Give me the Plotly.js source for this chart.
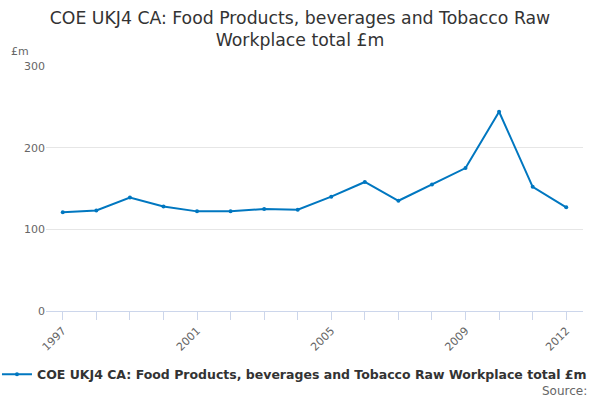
<!DOCTYPE html>
<html>
<head>
<meta charset="utf-8">
<script src="https://cdn.plot.ly/plotly-3.0.1.min.js"></script>
<style>html,body{margin:0;padding:0;background:#fff;}#chart{width:600px;height:400px;}</style>
</head>
<body>
<div id="chart"></div>
<script>
const years = [1997,1998,1999,2000,2001,2002,2003,2004,2005,2006,2007,2008,2009,2010,2011,2012];
const values = [121,123,139,128,122,122,125,124,140,158,135,155,175,244,152,127];
const tickLabels = ["1997","","","","2001","","","","2005","","","","2009","","","2012"];
const seriesName = "COE UKJ4 CA: Food Products, beverages and Tobacco Raw Workplace total £m";
const titleText = "COE UKJ4 CA: Food Products, beverages and Tobacco Raw<br>Workplace total £m";

const trace = {
  x: years, y: values, name: seriesName, type: 'scatter', mode: 'lines+markers',
  line: {color: '#0077c0', width: 2},
  marker: {color: '#0077c0', size: 4}
};

const layout = {
  width: 600, height: 400,
  margin: {l: 46, r: 17, t: 66, b: 89, autoexpand: false},
  paper_bgcolor: '#fff', plot_bgcolor: '#fff',
  font: {family: 'DejaVu Sans, sans-serif', color: '#666', size: 11},
  title: {text: titleText, font: {size: 17.3, color: '#333'}, x: 0.5, xanchor: 'center', y: 0.94, yanchor: 'middle'},
  showlegend: true,
  legend: {orientation: 'h', x: -0.0913, xanchor: 'left', y: -0.26, yanchor: 'middle', font: {size: 12.5, color: '#333', weight: 'bold'}},
  xaxis: {
    range: [1996.5, 2012.5], tickvals: years, ticktext: tickLabels, tickangle: -45,
    ticks: 'outside', ticklen: 8, tickcolor: '#ccd6eb', showline: true, linecolor: '#ccd6eb',
    showgrid: false, zeroline: false, tickfont: {size: 11, color: '#666'}
  },
  yaxis: {
    range: [0, 300], tickvals: [0,100,200,300], showgrid: true, gridcolor: '#e6e6e6',
    zeroline: false, showline: false, ticks: '', tickfont: {size: 11, color: '#666'}
  },
  annotations: [
    {text: '£m', xref: 'paper', yref: 'paper', x: -0.048, y: 1.06, showarrow: false, font: {size: 11, color: '#666'}, xanchor: 'center', yanchor: 'middle'},
    {text: 'Source:', xref: 'paper', yref: 'paper', x: 1.011, y: -0.327, showarrow: false, font: {size: 12, color: '#666'}, xanchor: 'right', yanchor: 'middle'}
  ]
};

Plotly.newPlot('chart', [trace], layout, {displayModeBar: false, staticPlot: true});
</script>
</body>
</html>
